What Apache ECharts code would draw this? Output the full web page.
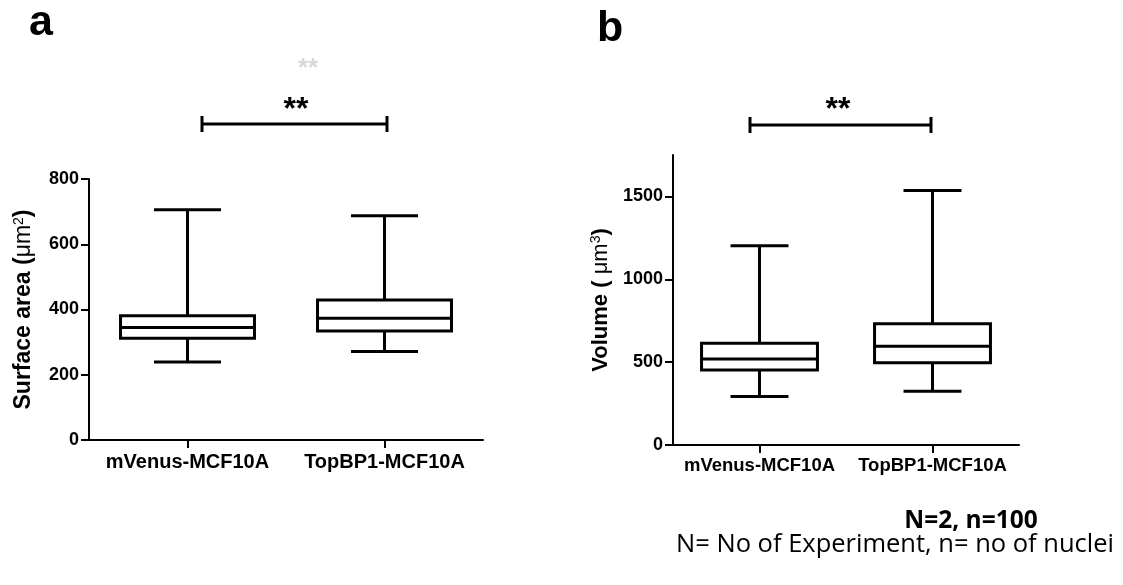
<!DOCTYPE html>
<html>
<head>
<meta charset="utf-8">
<script src="https://cdn.jsdelivr.net/npm/echarts@6/dist/echarts.min.js"></script>
<style>
  html, body { margin: 0; padding: 0; background: #fff; }
  #chart { width: 1123px; height: 585px; }
</style>
</head>
<body>
<div id="chart"></div>
<script>
// ---- data ----
const categories = ['mVenus-MCF10A', 'TopBP1-MCF10A'];
// each row: [min, Q1, median, Q3, max]
const surfaceAreaStats = [
  [239, 312, 345, 381, 706],
  [271, 334, 373, 429, 687]
];
const volumeStats = [
  [292, 453, 519, 614, 1202],
  [324, 497, 596, 731, 1536]
];
const surfaceTicks = [0, 200, 400, 600, 800];
const volumeTicks = [0, 500, 1000, 1500];
const significance = '**';

const FONT = '"Liberation Sans", Arial, sans-serif';

function toRows(stats) {
  return stats.map((s, i) => [i].concat(s));
}

function makeRender(boxRatio) {
  return function (params, api) {
    const x = api.value(0);
    const pMin = api.coord([x, api.value(1)]);
    const pQ1 = api.coord([x, api.value(2)]);
    const pMed = api.coord([x, api.value(3)]);
    const pQ3 = api.coord([x, api.value(4)]);
    const pMax = api.coord([x, api.value(5)]);
    const band = api.size([1, 0])[0];
    const bw = band * boxRatio;
    const cw = bw / 2;
    const cx = pMed[0];
    const st = { stroke: '#000', lineWidth: 3, fill: null };
    return {
      type: 'group',
      children: [
        { type: 'line', shape: { x1: cx, y1: pQ3[1], x2: cx, y2: pMax[1] }, style: st },
        { type: 'line', shape: { x1: cx, y1: pQ1[1], x2: cx, y2: pMin[1] }, style: st },
        { type: 'line', shape: { x1: cx - cw / 2, y1: pMax[1], x2: cx + cw / 2, y2: pMax[1] }, style: st },
        { type: 'line', shape: { x1: cx - cw / 2, y1: pMin[1], x2: cx + cw / 2, y2: pMin[1] }, style: st },
        { type: 'rect', shape: { x: cx - bw / 2, y: pQ3[1], width: bw, height: pQ1[1] - pQ3[1] },
          style: { stroke: '#000', lineWidth: 3, fill: '#fff' } },
        { type: 'line', shape: { x1: cx - bw / 2, y1: pMed[1], x2: cx + bw / 2, y2: pMed[1] }, style: st }
      ]
    };
  };
}

const chart = echarts.init(document.getElementById('chart'), null, { renderer: 'canvas' });

const axisLineStyle = { color: '#000', width: 2 };

function yAxisCfg(gridIndex, max, ticks, name, nameGap, fs, nfs) {
  return {
    type: 'value', gridIndex: gridIndex, min: 0, max: max,
    name: name, nameLocation: 'middle', nameRotate: 90, nameGap: nameGap,
    nameTextStyle: {
      rich: {
        b: { fontFamily: FONT, fontWeight: 'bold', fontSize: nfs, color: '#000' },
        n: { fontFamily: FONT, fontWeight: 'normal', fontSize: nfs, color: '#000' },
        sup: { fontFamily: FONT, fontWeight: 'normal', fontSize: 14, color: '#000', verticalAlign: 'top', padding: [0, 0, 10, 0] }
      }
    },
    axisLine: { show: true, lineStyle: axisLineStyle },
    axisTick: { show: true, length: 8, lineStyle: axisLineStyle, customValues: ticks },
    axisLabel: { customValues: ticks, margin: 10, fontFamily: FONT, fontWeight: 'bold', fontSize: fs, color: '#000',
      formatter: function (v) { return String(v); } },
    splitLine: { show: false }
  };
}

function xAxisCfg(gridIndex, fs, margin) {
  return {
    type: 'category', gridIndex: gridIndex, data: categories, boundaryGap: true,
    axisLine: { show: true, lineStyle: axisLineStyle },
    axisTick: { show: true, alignWithLabel: true, length: 8, lineStyle: axisLineStyle },
    axisLabel: { margin: margin, fontFamily: FONT, fontWeight: 'bold', fontSize: fs, color: '#000', interval: 0 },
    splitLine: { show: false }
  };
}

const option = {
  backgroundColor: '#fff',
  animation: false,
  grid: [
    { left: 89, right: 640, top: 179, bottom: 145 },
    { left: 673, right: 104, top: 155, bottom: 140 }
  ],
  xAxis: [xAxisCfg(0, 20, 12), xAxisCfg(1, 18.5, 11)],
  yAxis: [
    yAxisCfg(0, 800, surfaceTicks, '{b|Surface area (}{n|μm}{sup|2}{b|)}', 53, 18, 23),
    yAxisCfg(1, 1750, volumeTicks, '{b|Volume ( }{n|μm}{sup|3}{b|)}', 60, 18, 22)
  ],
  series: [
    {
      type: 'custom', xAxisIndex: 0, yAxisIndex: 0,
      renderItem: makeRender(0.68),
      encode: { x: 0, y: [1, 2, 3, 4, 5] },
      data: toRows(surfaceAreaStats)
    },
    {
      type: 'custom', xAxisIndex: 1, yAxisIndex: 1,
      renderItem: makeRender(0.67),
      encode: { x: 0, y: [1, 2, 3, 4, 5] },
      data: toRows(volumeStats)
    }
  ],
  graphic: [
    { type: 'text', x: 29, y: 23, style: { text: 'a', font: 'bold 43px ' + FONT, fill: '#000', verticalAlign: 'middle' } },
    { type: 'text', x: 597, y: 29, style: { text: 'b', font: 'bold 43px ' + FONT, fill: '#000', verticalAlign: 'middle' } },
    // faint asterisks
    { type: 'text', x: 308, y: 69, style: { text: significance, font: 'bold 26px ' + FONT, fill: '#d9d9d9', align: 'center', verticalAlign: 'middle' } },
    // bracket a
    { type: 'text', x: 296, y: 110, style: { text: significance, font: 'bold 32px ' + FONT, fill: '#000', align: 'center', verticalAlign: 'middle' } },
    { type: 'line', shape: { x1: 202, y1: 124, x2: 387, y2: 124 }, style: { stroke: '#000', lineWidth: 3 } },
    { type: 'line', shape: { x1: 202, y1: 116, x2: 202, y2: 132 }, style: { stroke: '#000', lineWidth: 3 } },
    { type: 'line', shape: { x1: 387, y1: 116, x2: 387, y2: 132 }, style: { stroke: '#000', lineWidth: 3 } },
    // bracket b
    { type: 'text', x: 838, y: 110, style: { text: significance, font: 'bold 32px ' + FONT, fill: '#000', align: 'center', verticalAlign: 'middle' } },
    { type: 'line', shape: { x1: 750, y1: 125, x2: 931, y2: 125 }, style: { stroke: '#000', lineWidth: 3 } },
    { type: 'line', shape: { x1: 750, y1: 117, x2: 750, y2: 133 }, style: { stroke: '#000', lineWidth: 3 } },
    { type: 'line', shape: { x1: 931, y1: 117, x2: 931, y2: 133 }, style: { stroke: '#000', lineWidth: 3 } },
    // footnote
    { type: 'text', x: 971, y: 521, style: { text: 'N=2, n=100', font: 'bold 24.5px "Open Sans", Lato, sans-serif', fill: '#000', align: 'center', verticalAlign: 'middle' } },
    { type: 'text', x: 895, y: 545, style: { text: 'N= No of Experiment, n= no of nuclei', font: '25.5px "Open Sans", Lato, sans-serif', fill: '#000', align: 'center', verticalAlign: 'middle' } }
  ]
};

chart.setOption(option);
</script>
</body>
</html>
